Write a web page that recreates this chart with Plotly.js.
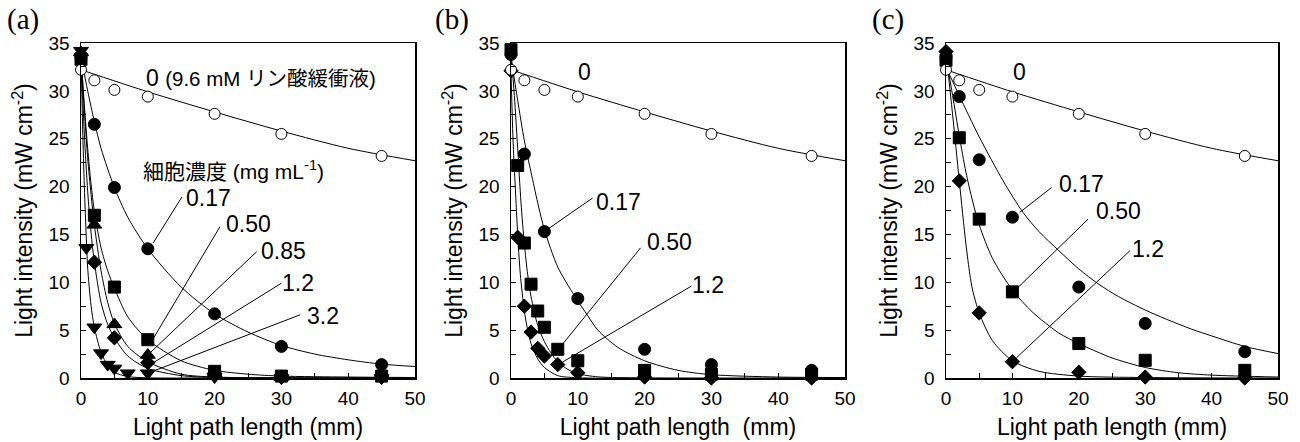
<!DOCTYPE html>
<html>
<head>
<meta charset="utf-8">
<script src="https://cdn.plot.ly/plotly-3.0.1.min.js"></script>
<style>html,body{margin:0;padding:0;background:#fff;}#chart{width:1300px;height:442px;}</style>
</head>
<body>
<div id="chart"></div>
<script>
// ---------- measured data (light path length in mm, light intensity in mW cm-2) ----------
const pathLen  = [0, 2, 5, 10, 20, 30, 45];
const pathLenB = [0, 1, 2, 3, 4, 5, 7, 10, 20, 30, 45];
const pathLenA32 = [0, 0.8, 2, 3, 4, 5, 7, 10, 20, 30, 45];

const buffer0 = [32.2, 31.1, 30.1, 29.4, 27.6, 25.5, 23.2];

// panel (a)
const a017 = [33.5, 26.5, 19.9, 13.5, 6.7, 3.3, 1.4];
const a050 = [33.3, 17.0, 9.5, 4.0, 0.7, 0.2, 0.2];
const a085 = [34.0, 16.0, 5.6, 2.4, 0.5, 0.1, 0.2];
const a12  = [33.8, 12.1, 4.2, 1.6, 0.5, 0.1, 0.1];
const a32  = [34.2, 13.6, 5.3, 2.6, 1.4, 1.0, 0.5, 0.5, 0.1, 0.0, 0.0];

// panel (b)
const b017 = [33.8, 23.4, 15.3, 8.3, 3.0, 1.4, 0.8];
const b050 = [34.3, 22.2, 14.1, 9.8, 7.0, 5.3, 3.0, 1.8, 0.8, 0.4, 0.4];
const b12  = [32.1, 14.7, 7.5, 4.8, 3.1, 2.3, 1.4, 0.55, 0.1, 0.0, 0.0];

// panel (c)
const c017 = [33.5, 29.4, 22.8, 16.8, 9.5, 5.7, 2.75];
const c050 = [33.2, 25.1, 16.6, 9.0, 3.6, 1.85, 0.8];
const c12  = [34.1, 20.6, 6.8, 1.7, 0.6, 0.1, 0.0];

// ---------- fitted curves ----------
const fitBufX = [0, 10, 20, 30, 40, 50];
const fitBufY = [32.2, 29.9, 27.8, 25.8, 24.0, 22.7];

const fitA017X = [0, 1, 2, 3, 5, 7, 10, 15, 20, 25, 30, 35, 40, 45, 50];
const fitA017Y = [33.5, 30.0, 26.8, 24.0, 19.9, 16.8, 13.5, 9.5, 6.7, 4.8, 3.4, 2.5, 1.9, 1.45, 1.2];
const fitA050X = [0, 0.5, 1, 1.5, 2, 3, 4, 5, 7, 10, 15, 20, 25, 30, 40, 50];
const fitA050Y = [33.5, 28.5, 24.0, 20.3, 17.4, 13.6, 11.2, 9.4, 6.4, 4.0, 1.8, 0.8, 0.4, 0.2, 0.1, 0.05];
const fitA085X = [0, 0.5, 1, 1.5, 2, 3, 4, 5, 7, 10, 15, 20, 30, 50];
const fitA085Y = [34, 28, 23, 19.2, 16.0, 11.2, 7.9, 5.7, 3.3, 1.7, 0.4, 0.1, 0.02, 0];
const fitA12X  = [0, 0.5, 1, 1.5, 2, 3, 4, 5, 7, 10, 15, 20, 30, 50];
const fitA12Y  = [34, 25.5, 19.5, 15.2, 12.1, 7.9, 5.6, 4.2, 2.3, 1.0, 0.25, 0.05, 0, 0];
const fitA32X  = [0, 0.25, 0.5, 0.8, 1, 1.5, 2, 3, 4, 5, 7, 10, 20, 50];
const fitA32Y  = [34, 26, 20, 14.5, 11.5, 7.6, 5.3, 2.7, 1.3, 0.6, 0.15, 0.02, 0, 0];

const fitB017X = [0, 1, 2, 3, 4, 5, 7, 9.5, 11.5, 13, 16, 20, 25, 30, 40, 50];
const fitB017Y = [33.5, 29.0, 24.8, 21.5, 18.3, 15.5, 11.6, 8.6, 6.5, 5.0, 3.2, 1.8, 0.8, 0.35, 0.1, 0.05];
const fitB050X = [0, 0.5, 1, 1.5, 2, 2.5, 3, 4, 5, 6, 7, 8.5, 10, 13, 20, 50];
const fitB050Y = [34, 29.5, 24, 18.3, 14.0, 10.8, 8.5, 5.5, 3.8, 2.6, 1.7, 0.9, 0.45, 0.12, 0.02, 0];
const fitB12X  = [0, 0.3, 0.6, 0.85, 1.1, 1.4, 2, 2.5, 3, 4, 5, 7, 10, 50];
const fitB12Y  = [32, 25, 20.5, 17, 13.8, 10.8, 7.0, 5.0, 3.6, 2.0, 1.1, 0.25, 0.03, 0];

const fitC017X = [0, 2, 5, 8.6, 11.6, 14, 17, 20, 23, 26, 30, 33, 37, 40, 45, 50];
const fitC017Y = [32.5, 29.5, 25.2, 20.6, 17.3, 15.3, 13.3, 11.4, 9.8, 8.5, 7.1, 6.2, 5.1, 4.4, 3.3, 2.55];
const fitC050X = [0, 1, 2, 3, 4, 5, 7, 10, 13, 17, 20, 25, 30, 35, 40, 50];
const fitC050Y = [33.5, 29.5, 25.3, 21.5, 18.5, 16.0, 12.5, 9.2, 6.9, 4.7, 3.6, 2.1, 1.1, 0.55, 0.3, 0.1];
const fitC12X  = [0, 1, 2, 3, 3.6, 4, 5, 7, 10, 14, 20, 30, 50];
const fitC12Y  = [34, 27.5, 20.6, 14, 10.8, 9.2, 6.8, 3.9, 1.8, 0.7, 0.2, 0.05, 0];

// ---------- text ----------
const panelLabels = ['(a)', '(b)', '(c)'];
const xTitles = ['Light path length (mm)', 'Light path length\u00a0 (mm)', 'Light path length (mm)'];
const yTitle = 'Light intensity (mW cm<sup>-2</sup>)';
const xTicks = [0, 10, 20, 30, 40, 50];
const yTicks = [0, 5, 10, 15, 20, 25, 30, 35];

// ---------- build ----------
const FONT = 'Liberation Sans, Arial, Noto Sans CJK JP, sans-serif';
const traces = [];
function line(x, y, p) {
  traces.push({x: x, y: y, xaxis: 'x' + p, yaxis: 'y' + p, mode: 'lines',
    line: {color: '#000', width: 1, shape: 'spline', smoothing: 0.8}, hoverinfo: 'skip', showlegend: false});
}
function pts(x, y, p, sym, size, open) {
  traces.push({x: x, y: y, xaxis: 'x' + p, yaxis: 'y' + p, mode: 'markers', cliponaxis: false,
    marker: {symbol: sym, size: size, color: open ? '#fff' : '#000', line: {color: '#000', width: 1}},
    showlegend: false});
}
const P = ['', '2', '3'];
// lines first
P.forEach(p => line(fitBufX, fitBufY, p));
line(fitA017X, fitA017Y, ''); line(fitA050X, fitA050Y, ''); line(fitA085X, fitA085Y, '');
line(fitA12X, fitA12Y, ''); line(fitA32X, fitA32Y, '');
line(fitB017X, fitB017Y, '2'); line(fitB050X, fitB050Y, '2'); line(fitB12X, fitB12Y, '2');
line(fitC017X, fitC017Y, '3'); line(fitC050X, fitC050Y, '3'); line(fitC12X, fitC12Y, '3');
// markers
pts(pathLen, a017, '', 'circle', 12); pts(pathLen, a050, '', 'square', 12);
pts(pathLen, a085, '', 'triangle-up', 13); pts(pathLen, a12, '', 'diamond', 11);
pts(pathLenA32, a32, '', 'triangle-down', 13);
pts(pathLen, b017, '2', 'circle', 12); pts(pathLenB, b050, '2', 'square', 12);
pts(pathLenB, b12, '2', 'diamond', 11);
pts(pathLen, c017, '3', 'circle', 12); pts(pathLen, c050, '3', 'square', 12);
pts(pathLen, c12, '3', 'diamond', 11);
P.forEach(p => pts(pathLen, buffer0, p, 'circle', 11, true));

const W = 1300, H = 442;
const xDom = [[81, 415], [511, 845], [946, 1278]];
const yDom = [(H - 378) / H, (H - 43) / H];

const layout = {
  width: W, height: H, margin: {l: 0, r: 0, t: 0, b: 0},
  paper_bgcolor: '#fff', plot_bgcolor: '#fff',
  font: {family: FONT, size: 19, color: '#000'},
  showlegend: false, shapes: [], annotations: []
};
P.forEach((p, i) => {
  layout['xaxis' + p] = {
    domain: [xDom[i][0] / W, xDom[i][1] / W], anchor: 'y' + p, range: [0, 50],
    tickmode: 'array', tickvals: xTicks, ticks: 'inside', ticklen: 5, tickwidth: 1, tickcolor: '#000',
    minor: {tickmode: 'linear', tick0: 0, dtick: 5, ticks: 'inside', ticklen: 5, tickwidth: 1, tickcolor: '#000'},
    showline: true, linewidth: 1.5, linecolor: '#000', mirror: true, showgrid: false, zeroline: false,
    tickfont: {size: 19}, ticklabelstandoff: 3,
    title: {text: xTitles[i], font: {size: 23}, standoff: 10}
  };
  layout['yaxis' + p] = {
    domain: yDom, anchor: 'x' + p, range: [0, 35],
    tickmode: 'array', tickvals: yTicks, ticks: 'inside', ticklen: 5, tickwidth: 1, tickcolor: '#000',
    minor: {tickmode: 'linear', tick0: 0, dtick: 2.5, ticks: 'inside', ticklen: 5, tickwidth: 1, tickcolor: '#000'},
    showline: true, linewidth: 1.5, linecolor: '#000', mirror: true, showgrid: false, zeroline: false,
    tickfont: {size: 19}, ticklabelstandoff: 6,
    title: {text: yTitle, font: {size: 23}, standoff: 9}
  };
  layout.annotations.push({xref: 'paper', yref: 'paper', x: [5, 433, 870][i] / W, y: (H - 20) / H,
    xanchor: 'left', yanchor: 'middle', showarrow: false, text: panelLabels[i],
    font: {family: 'Liberation Serif, Times New Roman, serif', size: 29}});
});

function label(p, x, y, txt, size) {
  layout.annotations.push({xref: 'x' + p, yref: 'y' + p, x: x, y: y, xanchor: 'left', yanchor: 'middle',
    showarrow: false, text: txt, font: {size: size || 23}, borderpad: 0});
}
function leader(p, x0, y0, x1, y1) {
  layout.shapes.push({type: 'line', xref: 'x' + p, yref: 'y' + p, x0: x0, y0: y0, x1: x1, y1: y1,
    line: {color: '#000', width: 1}});
}
// panel (a)
label('', 9.6, 31.3, '0 <span style="font-size:20.5px">(9.6 mM リン酸緩衝液)</span>');
label('', 9.2, 21.7, '細胞濃度 (mg mL<sup>-1</sup>)', 21);
label('', 15.6, 18.8, '0.17'); leader('', 15.1, 18.9, 10.8, 14.1);
label('', 21.6, 16.1, '0.50'); leader('', 20.8, 15.8, 10.8, 4.1);
label('', 26.8, 13.3, '0.85'); leader('', 26.3, 13.2, 10.3, 2.6);
label('', 29.9, 9.9, '1.2');   leader('', 30.0, 9.9, 10.6, 1.5);
label('', 33.7, 6.5, '3.2');   leader('', 32.8, 6.6, 10.6, 0.66);
// panel (b)
label('2', 9.9, 32.0, '0');
label('2', 12.5, 18.4, '0.17'); leader('2', 12.2, 18.8, 5.6, 15.6);
label('2', 20.2, 14.2, '0.50'); leader('2', 19.4, 13.6, 7.8, 3.6);
label('2', 26.9, 9.7, '1.2');   leader('2', 27.0, 9.6, 7.8, 1.7);
// panel (c)
label('3', 9.9, 32.0, '0');
label('3', 16.9, 20.3, '0.17'); leader('3', 15.9, 19.9, 11.1, 17.3);
label('3', 22.4, 17.5, '0.50'); leader('3', 21.4, 16.6, 10.9, 9.5);
label('3', 27.9, 13.5, '1.2');  leader('3', 27.7, 13.3, 10.6, 2.1);

Plotly.newPlot('chart', traces, layout, {displayModeBar: false, staticPlot: true});
</script>
</body>
</html>
